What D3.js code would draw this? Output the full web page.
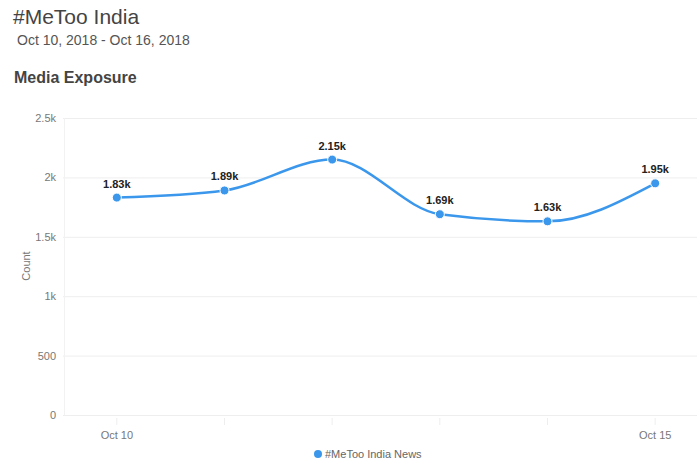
<!DOCTYPE html>
<html>
<head>
<meta charset="utf-8">
<script src="https://cdn.jsdelivr.net/npm/d3@7"></script>
<style>
	body { margin: 0; background: #fff; font-family: "Liberation Sans", Arial, sans-serif; }
	.grid line { stroke: #eeeeee; }
	.grid path { display: none; }
	.axis text { fill: #777; font-size: 11px; }
	.axis path { display: none; }
</style>
</head>
<body>
<div id="chart"></div>
<script>
	const categories = ['Oct 10', 'Oct 11', 'Oct 12', 'Oct 13', 'Oct 14', 'Oct 15'];
	const values = [1830, 1890, 2150, 1690, 1630, 1950];
	const valueLabels = ['1.83k', '1.89k', '2.15k', '1.69k', '1.63k', '1.95k'];
	const yTicks = [0, 500, 1000, 1500, 2000, 2500];
	const yTickLabels = ['0', '500', '1k', '1.5k', '2k', '2.5k'];
	const shownDates = ['Oct 10', 'Oct 15'];

	const width = 697;
	const height = 463;
	const color = '#3b97eb';

	const svg = d3.select('#chart').append('svg')
		.attr('width', width)
		.attr('height', height);

	// header texts
	svg.append('text')
		.attr('x', 13).attr('y', 24)
		.style('font-size', '21px').style('fill', '#444')
		.text('#MeToo India');
	svg.append('text')
		.attr('x', 17).attr('y', 45)
		.style('font-size', '14px').style('fill', '#555')
		.text('Oct 10, 2018 - Oct 16, 2018');
	svg.append('text')
		.attr('x', 14).attr('y', 83)
		.style('font-size', '16px').style('font-weight', 'bold').style('fill', '#444')
		.text('Media Exposure');

	const x = d3.scaleBand()
		.domain(categories)
		.range([63, 709]);
	const y = d3.scaleLinear()
		.domain([0, 2500])
		.range([415, 118]);

	// gridlines
	svg.append('g')
		.attr('class', 'grid')
		.attr('transform', 'translate(63, 0)')
		.call(d3.axisLeft(y).tickValues(yTicks).tickSize(-640).tickFormat(''));

	// faint y axis line
	svg.append('line')
		.attr('x1', 64.5).attr('x2', 64.5)
		.attr('y1', 118).attr('y2', 415)
		.style('stroke', '#f2f2f2');

	const yAxis = d3.axisLeft(y)
		.tickValues(yTicks)
		.tickFormat((d, i) => yTickLabels[i])
		.tickSize(0)
		.tickPadding(7);
	svg.append('g')
		.attr('class', 'axis')
		.attr('transform', 'translate(63, 0)')
		.call(yAxis);

	const xAxis = d3.axisBottom(x)
		.tickFormat(d => (shownDates.includes(d) ? d : ''))
		.tickSize(7)
		.tickPadding(6);
	const xg = svg.append('g')
		.attr('class', 'axis')
		.attr('transform', 'translate(0, 418)')
		.call(xAxis);
	xg.selectAll('.tick line').style('stroke', '#eeeeee');

	// y axis label
	svg.append('text')
		.attr('transform', 'translate(30, 266) rotate(-90)')
		.attr('text-anchor', 'middle')
		.style('font-size', '11px').style('fill', '#777')
		.text('Count');

	const cx = d => x(d) + x.bandwidth() / 2;
	const points = categories.map((c, i) => ({ c, v: values[i], label: valueLabels[i] }));

	const line = d3.line()
		.x(d => cx(d.c))
		.y(d => y(d.v))
		.curve(d3.curveMonotoneX);

	svg.append('path')
		.datum(points)
		.attr('d', line)
		.style('fill', 'none')
		.style('stroke', color)
		.style('stroke-width', 2.5);

	svg.selectAll('.dot')
		.data(points)
		.enter().append('circle')
			.attr('class', 'dot')
			.attr('cx', d => cx(d.c))
			.attr('cy', d => y(d.v))
			.attr('r', 4.5)
			.style('fill', color)
			.style('stroke', '#fff')
			.style('stroke-width', 1);

	svg.selectAll('.value-label')
		.data(points)
		.enter().append('text')
			.attr('class', 'value-label')
			.attr('x', d => cx(d.c))
			.attr('y', d => y(d.v) - 10)
			.attr('text-anchor', 'middle')
			.style('font-size', '11px').style('font-weight', 'bold').style('fill', '#222')
			.text(d => d.label);

	// legend
	const legend = svg.append('g').attr('transform', 'translate(318, 454)');
	legend.append('circle')
		.attr('r', 4)
		.style('fill', color);
	legend.append('text')
		.attr('x', 7).attr('dy', '0.35em')
		.style('font-size', '11px').style('fill', '#666')
		.text('#MeToo India News');
</script>
</body>
</html>
